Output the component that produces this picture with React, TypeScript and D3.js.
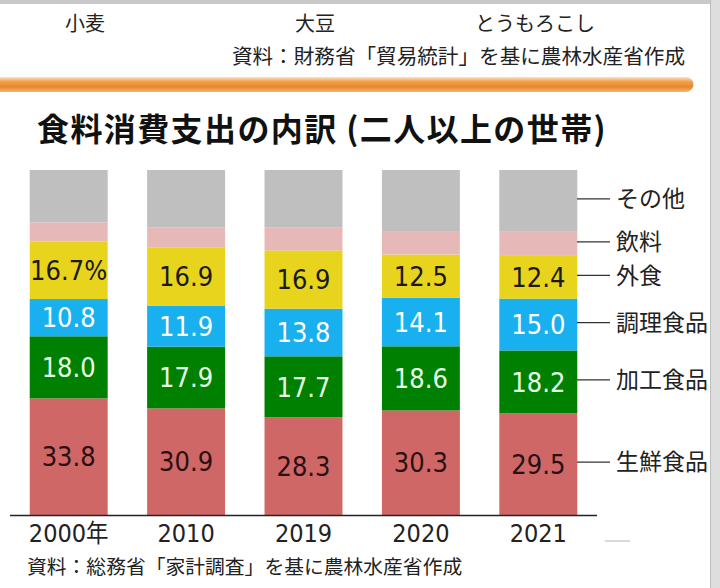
import React, { useEffect, useRef } from "react";
import * as d3 from "d3";

// 食料消費支出の内訳 (二人以上の世帯), %
const years = ["2000年", "2010", "2019", "2020", "2021"];
const categories = ["生鮮食品", "加工食品", "調理食品", "外食", "飲料", "その他"];
const fresh = [33.8, 30.9, 28.3, 30.3, 29.5];
const processed = [18.0, 17.9, 17.7, 18.6, 18.2];
const prepared = [10.8, 11.9, 13.8, 14.1, 15.0];
const eatingOut = [16.7, 16.9, 16.9, 12.5, 12.4];
const drinks = [5.5, 5.8, 6.6, 6.8, 7.0];
const others = [15.2, 16.6, 16.7, 17.7, 17.9];
const labelled = ["生鮮食品", "加工食品", "調理食品", "外食"];

const topItems = ["小麦", "大豆", "とうもろこし"];
const topSource = "資料：財務省「貿易統計」を基に農林水産省作成";
const title = "食料消費支出の内訳 (二人以上の世帯)";
const footer = "資料：総務省「家計調査」を基に農林水産省作成";

const colors = ["#d06767", "#008000", "#19b0f0", "#e8d41c", "#e6b8b7", "#bfbfbf"];
const labelColors = ["#2a1010", "#e6ffe6", "#ffffff", "#1a1a1a"];

const JP = "'Noto Sans CJK JP', sans-serif";
const NUM = "'DejaVu Sans', 'Noto Sans CJK JP', sans-serif";

export default function App() {
    const svgRef = useRef<SVGSVGElement | null>(null);

    useEffect(() => {
        const W = 720, H = 588;
        const svg = d3.select(svgRef.current).attr("width", W).attr("height", H);
        svg.selectAll("*").remove();

        const series = [fresh, processed, prepared, eatingOut, drinks, others];
        const table = years.map((y, i) => {
            const row: any = { year: y };
            categories.forEach((c, k) => { row[c] = series[k][i]; });
            return row;
        });
        const stacked = d3.stack().keys(categories)(table);

        const x = d3.scaleBand().domain(years).range([10, 597]).paddingInner(0.336).paddingOuter(0.168);
        const y = d3.scaleLinear().domain([0, 100]).range([515, 170]);
        const color = d3.scaleOrdinal<string>().domain(categories).range(colors);

        // frame
        svg.append("rect").attr("width", W).attr("height", H).attr("fill", "#ffffff");
        svg.append("rect").attr("x", 0).attr("y", 0).attr("width", W).attr("height", 4).attr("fill", "#c9c9c9");
        svg.append("rect").attr("x", 710).attr("y", 0).attr("width", 10).attr("height", H).attr("fill", "#dedede");
        svg.append("line").attr("x1", 710.5).attr("x2", 710.5).attr("y1", 0).attr("y2", H).attr("stroke", "#bdbdbd");

        // orange band
        const defs = svg.append("defs");
        const grad = defs.append("linearGradient").attr("id", "band").attr("x1", 0).attr("x2", 0).attr("y1", 0).attr("y2", 1);
        [["0%", "#fbe3c4"], ["30%", "#f2a24a"], ["65%", "#e8872b"], ["100%", "#f3b672"]].forEach(([o, c]) =>
            grad.append("stop").attr("offset", o).attr("stop-color", c));
        svg.append("path")
            .attr("d", "M0,77 H686 A7.5,7.5 0 0 1 686,92 H0 Z")
            .attr("fill", "url(#band)");

        // top text
        const topX = [85, 315, 535];
        svg.selectAll(".top").data(topItems).enter().append("text")
            .attr("x", (_, i) => topX[i]).attr("y", 31)
            .attr("text-anchor", "middle")
            .style("font-family", JP).style("font-size", "20px").attr("fill", "#222")
            .text(d => d);
        svg.append("text").attr("x", 685).attr("y", 64).attr("text-anchor", "end")
            .style("font-family", JP).style("font-size", "20.6px").attr("fill", "#222")
            .text(topSource);

        // title
        svg.append("text").attr("x", 37).attr("y", 141)
            .style("font-family", JP).style("font-size", "32px").style("font-weight", "bold")
            .style("letter-spacing", "1.4px").attr("fill", "#111")
            .text(title);

        // bars
        const g = svg.append("g");
        stacked.forEach((layer) => {
            g.selectAll(".seg-" + layer.index).data(layer).enter().append("rect")
                .attr("x", (d: any) => x(d.data.year)!)
                .attr("width", x.bandwidth())
                .attr("y", d => y(d[1]))
                .attr("height", d => y(d[0]) - y(d[1]))
                .attr("fill", color(layer.key));
        });

        // value labels (narrowed a little, like the original's font)
        stacked.filter(l => labelled.includes(l.key)).forEach((layer) => {
            g.selectAll(".lab-" + layer.index).data(layer).enter().append("text")
                .attr("transform", (d: any) => "translate(" + (x(d.data.year)! + x.bandwidth() / 2) + "," + (y(d[0]) + y(d[1])) / 2 + ") scale(0.9,1)")
                .attr("dy", "0.36em")
                .attr("text-anchor", "middle")
                .style("font-family", NUM).style("font-size", "27px")
                .attr("fill", labelColors[layer.index])
                .text((d: any, i) => {
                    const v = (d[1] - d[0]).toFixed(1);
                    return layer.key === "外食" && i === 0 ? v + "%" : v;
                });
        });

        // axis
        svg.append("line").attr("x1", 10).attr("x2", 597).attr("y1", 515.5).attr("y2", 515.5)
            .attr("stroke", "#222").attr("stroke-width", 1.5);
        svg.selectAll(".year").data(years).enter().append("text")
            .attr("transform", d => "translate(" + (x(d)! + x.bandwidth() / 2) + ",542) scale(0.9,1)")
            .attr("text-anchor", "middle")
            .style("font-family", NUM).style("font-size", "25px").attr("fill", "#222")
            .text(d => d);
        svg.append("line").attr("x1", 605).attr("x2", 630).attr("y1", 541).attr("y2", 541)
            .attr("stroke", "#cccccc").attr("stroke-width", 1.5);

        // legend on the right, at segment centres of the last bar
        const last = years.length - 1;
        const lg = svg.append("g");
        stacked.forEach((layer) => {
            const d = layer[last];
            const ly = (y(d[0]) + y(d[1])) / 2 - 2;
            lg.append("line").attr("x1", 577).attr("x2", 610).attr("y1", ly).attr("y2", ly)
                .attr("stroke", "#333").attr("stroke-width", 1.2);
            lg.append("text").attr("x", 616).attr("y", ly).attr("dy", "0.36em")
                .style("font-family", JP).style("font-size", "23px").attr("fill", "#222")
                .text(layer.key);
        });

        // footer
        svg.append("text").attr("x", 27).attr("y", 574)
            .style("font-family", JP).style("font-size", "19.8px").attr("fill", "#222")
            .text(footer);
    }, []);

    return (
        <svg ref={svgRef} style={{ position: "absolute", left: 0, top: 0, display: "block" }} />
    );
}
